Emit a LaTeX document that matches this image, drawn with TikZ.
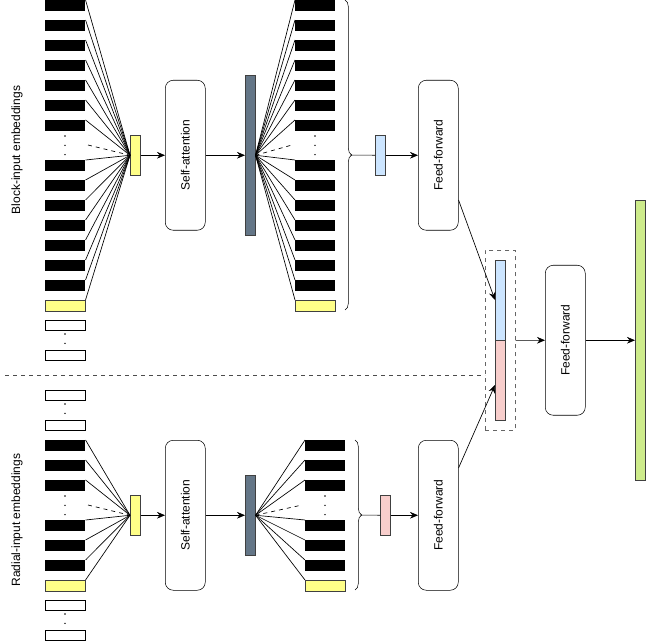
\documentclass[tikz,border=0pt]{standalone}
\usepackage{fontspec}
\setmainfont{Liberation Sans}
\usetikzlibrary{decorations.pathreplacing,arrows.meta}
\definecolor{slate}{HTML}{647687}
\definecolor{ylwc}{HTML}{FFFF88}
\definecolor{bluec}{HTML}{CCE5FF}
\definecolor{pinkc}{HTML}{F8CECC}
\definecolor{greenc}{HTML}{CDEB8B}
\begin{document}
\begin{tikzpicture}[x=0.75pt,y=-0.75pt,
  blk/.style={fill=black,draw=none,minimum width=30pt,minimum height=8.25pt,inner sep=0,anchor=north west},
  ylw/.style={fill=ylwc,draw=black!75,minimum width=30pt,minimum height=8.25pt,inner sep=0,anchor=north west},
  wht/.style={fill=white,draw=black,minimum width=30pt,minimum height=7.5pt,inner sep=0,anchor=north west},
  vec/.style={draw=black!75,inner sep=0,minimum width=7.5pt,anchor=north west},
  proc/.style={draw=black,rounded corners=6pt,minimum width=30pt,minimum height=112.5pt,inner sep=0,anchor=north west},
  lbl/.style={rotate=90,font=\fontsize{9}{10}\selectfont},
  arr/.style={-{Stealth[length=6pt,width=5pt]}},
  thin/.style={line width=0.5pt},
  dotv/.style={line width=1.2pt,line cap=round,dash pattern=on 0pt off 7pt}]
\useasboundingbox (0,0) rectangle (646,641);
% ---------- top ----------
\node[lbl] (lblA) at (17,150) {Block-input embeddings};
\foreach \y [count=\i] in {0,20,40,60,80,100,120,160,180,200,220,240,260,280}{
  \node[blk] (a\i) at (45,\y) {};
  \node[blk] (b\i) at (295,\y) {};
}
\node[ylw] (ay) at (45,300) {};
\node[ylw] (by) at (295,300) {};
\node[wht] (aw1) at (45,320) {};
\node[wht] (aw2) at (45,350) {};
\draw[dotv] (65,136) -- (65,160);
\draw[dotv] (65,334) -- (65,348);
\draw[dotv] (315,136) -- (315,160);
\node[vec,fill=ylwc,minimum height=30pt] (ya) at (130,135) {};
\foreach \i in {1,...,14}{ \draw[thin] (a\i.north east) -- (ya.west); }
\draw[thin] (ay.north east) -- (ya.west);
\draw[thin,dashed] (88,145) -- (ya.west);
\node[proc] (sa1) at (165,80) {};
\node[lbl] at (sa1.center) {Self-attention};
\draw[arr] (ya.east) -- (sa1.west);
\node[vec,minimum height=120pt,fill=slate] (da) at (245,75) {};
\draw[arr] (sa1.east) -- (da.west);
\foreach \i in {1,...,14}{ \draw[thin] (da.east) -- (b\i.north west); }
\draw[thin] (da.east) -- (by.north west);
\draw[thin,dashed] (da.east) -- (292,145);
\draw[decorate,decoration={brace,amplitude=5pt}] (345,0) -- (345,310);
\coordinate (braT) at (350,155);
\node[vec,fill=bluec,minimum height=30pt] (bl) at (375,135) {};
\draw (braT) -- (bl.west);
\node[proc] (ff1) at (418,80) {};
\node[lbl] at (ff1.center) {Feed-forward};
\draw[arr] (bl.east) -- (ff1.west);
% ---------- separator ----------
\draw[dashed,black!70] (5,375) -- (485,375);
% ---------- bottom ----------
\node[lbl] (lblB) at (17,520) {Radial-input embeddings};
\node[wht] (cw1) at (45,390) {};
\node[wht] (cw2) at (45,420) {};
\draw[dotv] (65,404) -- (65,418);
\foreach \y [count=\i] in {440,460,480,520,540,560}{
  \node[blk] (c\i) at (45,\y) {};
  \node[blk] (d\i) at (305,\y) {};
}
\node[ylw] (cy) at (45,580) {};
\node[ylw] (dy) at (305,580) {};
\node[wht] (cw3) at (45,600) {};
\node[wht] (cw4) at (45,630) {};
\draw[dotv] (65,496) -- (65,520);
\draw[dotv] (65,614) -- (65,628);
\draw[dotv] (325,496) -- (325,520);
\node[vec,fill=ylwc,minimum height=30pt] (yb) at (130,495) {};
\foreach \i in {1,...,6}{ \draw[thin] (c\i.north east) -- (yb.west); }
\draw[thin] (cy.north east) -- (yb.west);
\draw[thin,dashed] (88,505) -- (yb.west);
\node[proc] (sa2) at (165,440) {};
\node[lbl] at (sa2.center) {Self-attention};
\draw[arr] (yb.east) -- (sa2.west);
\node[vec,minimum height=60pt,fill=slate] (db) at (245,475) {};
\draw[arr] (sa2.east) -- (db.west);
\foreach \i in {1,...,6}{ \draw[thin] (db.east) -- (d\i.north west); }
\draw[thin] (db.east) -- (dy.north west);
\draw[thin,dashed] (db.east) -- (302,505);
\draw[decorate,decoration={brace,amplitude=5pt}] (355,440) -- (355,590);
\coordinate (braB) at (360,515);
\node[vec,fill=pinkc,minimum height=30pt] (pk) at (380,495) {};
\draw (braB) -- (pk.west);
\node[proc] (ff2) at (418,440) {};
\node[lbl] at (ff2.center) {Feed-forward};
\draw[arr] (pk.east) -- (ff2.west);
% ---------- right ----------
\node[draw=black!60,dashed,thin,minimum width=22.5pt,minimum height=135pt,inner sep=0,anchor=north west] (cat) at (485,250) {};
\node[vec,fill=bluec,minimum height=60pt] (cb) at (495,260) {};
\node[vec,fill=pinkc,minimum height=60pt] (cp) at (495,340) {};
\draw[arr,thin] (ff1.east |- 0,200) -- (cb.west |- 0,300);
\draw[arr,thin] (ff2.east |- 0,468) -- (cp.west |- 0,385);
\node[proc] (ff3) at (545,265) {};
\node[lbl] at (ff3.center) {Feed-forward};
\draw[arr] (cat.east) -- (ff3.west);
\node[vec,fill=greenc,minimum height=210pt] (gr) at (635,200) {};
\draw[arr] (ff3.east) -- (gr.west);
\end{tikzpicture}
\end{document}
